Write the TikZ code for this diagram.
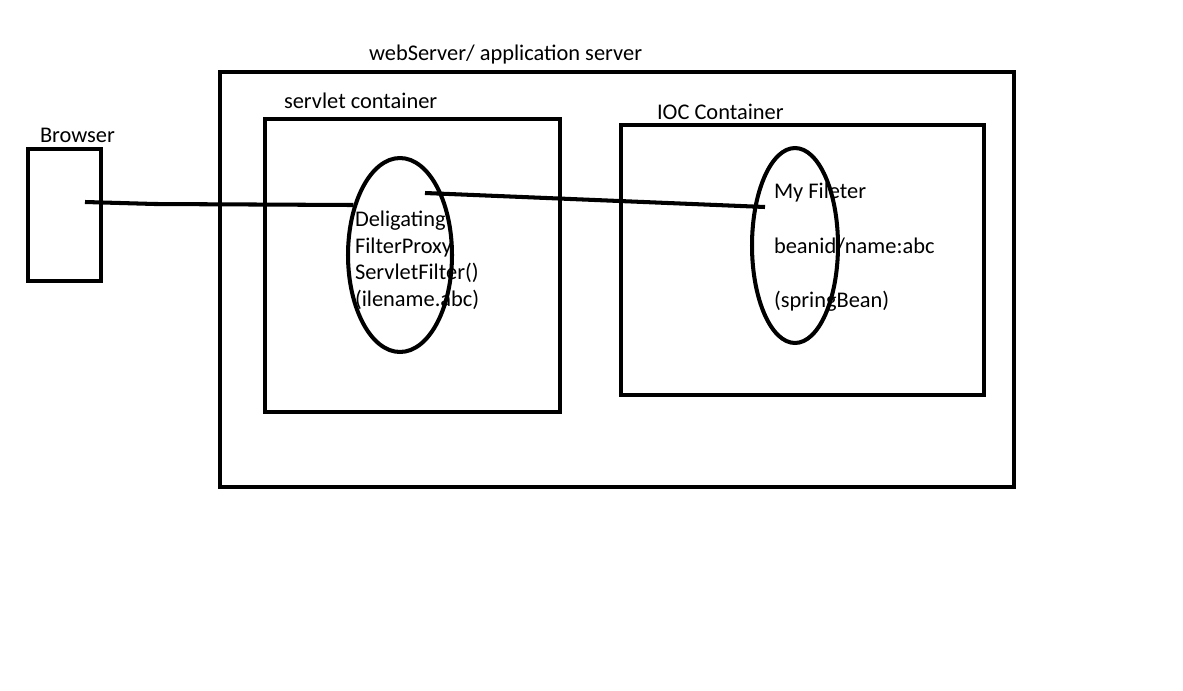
\documentclass[tikz,border=0pt]{standalone}
\usepackage{fontspec}
\setmainfont{Carlito}
\usetikzlibrary{positioning, shapes.geometric}
\tikzset{
  every picture/.style={line width=2.3pt, font=\fontsize{12.75}{15.1}\selectfont},
  box/.style={draw=black, rectangle, inner sep=0pt},
  oval/.style={draw=black, ellipse, inner sep=0pt},
  caption/.style={anchor=base west, inner sep=0pt},
  inside/.style={anchor=north west, inner sep=0pt, align=left},
  wire/.style={draw=black, line width=2.3pt},
}
\begin{document}
\begin{tikzpicture}[x=0.02cm, y=-0.02cm]
  \useasboundingbox (0,0) rectangle (1183,690);
  % containers
  \node[box, minimum width=1.46cm, minimum height=2.64cm] (browser) at (64.5,215) {};
  \node[box, minimum width=15.88cm, minimum height=8.3cm] (server) at (617,279.5) {};
  \node[box, minimum width=5.9cm, minimum height=5.86cm] (servlet) at (412.5,265.5) {};
  \node[box, minimum width=7.26cm, minimum height=5.4cm] (ioc) at (802.5,260) {};
  % filters
  \node[oval, minimum width=2.08cm, minimum height=3.88cm] (proxy) at (400,255) {};
  \node[oval, minimum width=1.72cm, minimum height=3.9cm] (bean) at (795,245.5) {};
  % titles
  \node[caption] (servertitle) at (367,60) {webServer/ application server};
  \node[caption] (servlettitle) at (282,108) {servlet container};
  \node[caption] (browsertitle) at (38,142) {Browser};
  \node[caption] (ioctitle) at (655,119) {IOC Container};
  \node[inside] (proxytext) at (353,209) {Deligating\\FilterProxy\\ServletFilter()\\(ilename.abc)};
  \node[inside] (beantext) at (772,181) {My Fileter\\[16pt]beanid/name:abc\\[16pt](springBean)};
  % wires
  \coordinate (req) at (85,202);
  \coordinate (fwd) at (425,193);
  \coordinate (hit) at (765,207);
  \draw[wire] (req) -- (155,204) -- (proxy.133);
  \draw[wire] (fwd) -- (hit);
\end{tikzpicture}
\end{document}
